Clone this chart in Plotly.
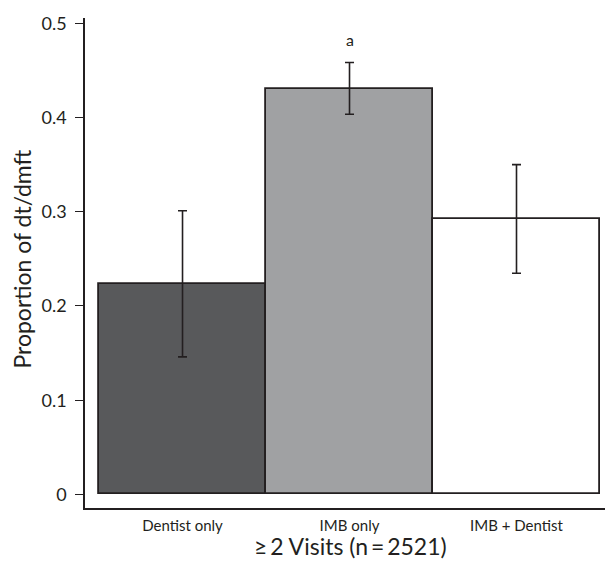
import plotly.graph_objects as go

categories = ["Dentist only", "IMB only", "IMB + Dentist"]
values = [0.2234, 0.4304, 0.292]
err_upper = [0.301, 0.4583, 0.350]
err_lower = [0.146, 0.4035, 0.2347]
bar_colors = ["#58595b", "#a0a1a3", "#ffffff"]
y_ticks = [0, 0.1, 0.2, 0.3, 0.4, 0.5]
y_ticklabels = ["0", "0.1", "0.2", "0.3", "0.4", "0.5"]
sig_labels = ["", "a", ""]
sig_y = 0.4824
x_title = "≥\u20092 Visits (n\u2009=\u20092521)"
y_title = "Proportion of dt/dmft"

ink = "#231f20"
font_family = "Lato, Open Sans, sans-serif"

x_idx = list(range(len(categories)))
plus = [u - v for u, v in zip(err_upper, values)]
minus = [v - l for v, l in zip(values, err_lower)]

fig = go.Figure()
fig.add_trace(go.Bar(
    x=x_idx, y=values, width=1.0,
    marker=dict(color=bar_colors, line=dict(color=ink, width=1.8)),
    error_y=dict(type="data", symmetric=False, array=plus, arrayminus=minus,
                 color=ink, thickness=1.6, width=4.5),
    showlegend=False, hoverinfo="skip",
))

for i, lab in enumerate(sig_labels):
    if lab:
        fig.add_annotation(x=i, y=sig_y, text=lab, showarrow=False,
                           font=dict(family=font_family, size=16, color=ink),
                           xref="x", yref="y", yanchor="middle")

fig.add_annotation(x=-0.1202, y=0.508, xref="paper", yref="paper", text=y_title,
                   textangle=-90, showarrow=False, xanchor="center", yanchor="middle",
                   font=dict(family=font_family, size=23, color=ink))
fig.add_annotation(x=0.5115, y=-0.0776, xref="paper", yref="paper", text=x_title,
                   showarrow=False, xanchor="center", yanchor="middle",
                   font=dict(family=font_family, size=23, color=ink))

fig.update_layout(
    width=606, height=565,
    margin=dict(l=85, r=1, t=18, b=57, autoexpand=False),
    paper_bgcolor="white", plot_bgcolor="white",
    bargap=0,
    font=dict(family=font_family, color=ink),
    xaxis=dict(
        range=[-0.584, 2.53],
        tickvals=x_idx, ticktext=categories,
        tickfont=dict(size=15, color=ink),
        showline=True, linecolor=ink, linewidth=1.6,
        ticks="", showgrid=False, zeroline=False, automargin=False,
        ticklabelstandoff=3,
    ),
    yaxis=dict(
        range=[-0.0144, 0.5056],
        tickvals=y_ticks, ticktext=y_ticklabels,
        tickfont=dict(size=18, color=ink),
        showline=True, linecolor=ink, linewidth=1.6,
        ticks="outside", ticklen=8, tickwidth=1.3, tickcolor=ink,
        showgrid=False, zeroline=False, automargin=False,
        ticklabelstandoff=5,
    ),
)

fig.write_html(
    "out.html",
    config={"displayModeBar": False},
    post_script="document.body.style.margin='0';document.body.style.overflow='hidden';",
)
